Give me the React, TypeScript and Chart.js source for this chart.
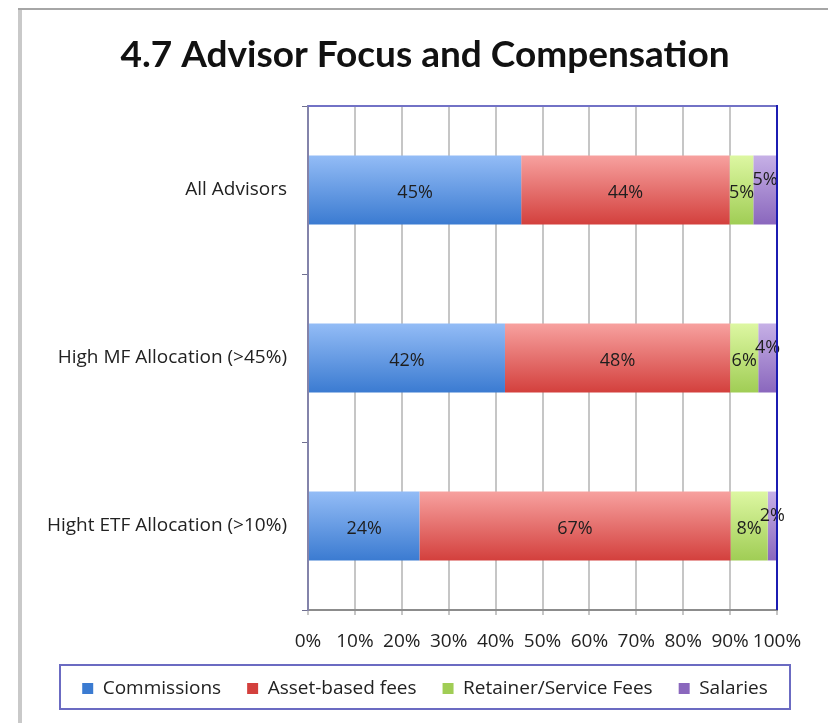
import React, { useEffect, useRef } from "react";
import { Chart, registerables } from "chart.js";

Chart.register(...registerables);

const titleText = "4.7 Advisor Focus and Compensation";
const categories = ["All Advisors", "High MF Allocation (>45%)", "Hight ETF Allocation (>10%)"];
const seriesNames = ["Commissions", "Asset-based fees", "Retainer/Service Fees", "Salaries"];
const commissions = [45, 42, 24];
const assetBasedFees = [44, 48, 67];
const retainerFees = [5, 6, 8];
const salaries = [5, 4, 2];
const xTickValues = [0, 10, 20, 30, 40, 50, 60, 70, 80, 90, 100];

const BAR_PCT = 0.41;
const SMALL_FONT = "'Open Sans', sans-serif";

const palette = [
  { top: "#93bcf6", bottom: "#3b7bd1", solid: "#5b93e0" },
  { top: "#f7a19f", bottom: "#d3403d", solid: "#e36461" },
  { top: "#ddf7a2", bottom: "#a0cd55", solid: "#bfe27a" },
  { top: "#c6b0e6", bottom: "#8a67bd", solid: "#a888d2" },
];

function makeFill(p: { top: string; bottom: string; solid: string }) {
  return (ctx: any) => {
    if (ctx.type !== "data") return p.solid;
    const chart = ctx.chart;
    const yScale = chart.scales && chart.scales.y;
    if (!yScale || !chart.chartArea) return p.solid;
    const c = yScale.getPixelForValue(ctx.dataIndex);
    const band = Math.abs(yScale.getPixelForValue(1) - yScale.getPixelForValue(0)) || 168;
    const half = (band * BAR_PCT) / 2;
    if (!isFinite(c) || !isFinite(half)) return p.solid;
    const g = chart.ctx.createLinearGradient(0, c - half, 0, c + half);
    g.addColorStop(0, p.top);
    g.addColorStop(1, p.bottom);
    return g;
  };
}

const framePlugin = {
  id: "frame",
  beforeDraw(chart: any) {
    const c = chart.ctx;
    c.save();
    c.fillStyle = "#ffffff";
    c.fillRect(0, 0, chart.width, chart.height);
    c.strokeStyle = "#c9c9c9";
    c.lineWidth = 4;
    c.beginPath();
    c.moveTo(20, 8);
    c.lineTo(20, chart.height);
    c.stroke();
    c.strokeStyle = "#a6a6a6";
    c.lineWidth = 2;
    c.beginPath();
    c.moveTo(18, 9);
    c.lineTo(chart.width, 9);
    c.stroke();
    c.restore();
  },
  afterDraw(chart: any) {
    const c = chart.ctx;
    const a = chart.chartArea;
    c.save();
    c.lineWidth = 2;
    c.strokeStyle = "#7272c6";
    c.beginPath();
    c.moveTo(a.left, a.top);
    c.lineTo(a.right, a.top);
    c.stroke();
    c.strokeStyle = "#1c1cb2";
    c.beginPath();
    c.moveTo(a.right, a.top - 1);
    c.lineTo(a.right, a.bottom);
    c.stroke();
    if (chart.legend) {
      c.strokeStyle = "#6b6bc2";
      c.lineWidth = 2;
      c.strokeRect(60, 665, 730, 44);
    }
    c.restore();
  },
};

const labelPlugin = {
  id: "segmentLabels",
  afterDatasetsDraw(chart: any) {
    const c = chart.ctx;
    c.save();
    c.font = `18px ${SMALL_FONT}`;
    c.fillStyle = "#1e1e1e";
    c.textAlign = "center";
    c.textBaseline = "middle";
    const values = [commissions, assetBasedFees, retainerFees, salaries];
    chart.data.datasets.forEach((_ds: any, di: number) => {
      const meta = chart.getDatasetMeta(di);
      meta.data.forEach((bar: any, i: number) => {
        const p = bar.getProps(["x", "base", "y"], true);
        const cx = (p.x + p.base) / 2;
        const dy = di === 3 ? -10 : 3;
        c.fillText(values[di][i] + "%", cx, p.y + dy);
      });
    });
    c.restore();
  },
};

export default function App() {
  const ref = useRef<HTMLCanvasElement | null>(null);
  useEffect(() => {
    document.body.style.margin = "0";
    if (!ref.current) return;
    const raw = [commissions, assetBasedFees, retainerFees, salaries];
    const totals = categories.map((_, i) => raw.reduce((s, arr) => s + arr[i], 0));
    const datasets = raw.map((arr, di) => ({
      label: seriesNames[di],
      data: arr.map((v, i) => (v / totals[i]) * 100),
      backgroundColor: makeFill(palette[di]),
      borderWidth: 0,
      categoryPercentage: 1,
      barPercentage: BAR_PCT,
    }));
    const chart = new Chart(ref.current, {
      type: "bar",
      data: { labels: categories, datasets },
      options: {
        indexAxis: "y",
        responsive: false,
        animation: false,
        layout: { padding: { left: 22, right: 0, top: 0, bottom: 15 } },
        plugins: {
          title: {
            display: true,
            text: titleText,
            color: "#111111",
            font: { family: "Lato, sans-serif", size: 37, weight: "bold" },
            padding: { top: 33, bottom: 28.6 },
          },
          legend: {
            display: true,
            position: "bottom",
            labels: {
              color: "#222222",
              font: { family: SMALL_FONT, size: 19 },
              boxWidth: 11,
              boxHeight: 11,
              padding: 26,
            },
          },
          tooltip: { enabled: false },
        },
        scales: {
          x: {
            type: "linear",
            stacked: true,
            min: 0,
            max: 100,
            afterBuildTicks(scale: any) {
              scale.ticks = xTickValues.map((v) => ({ value: v }));
            },
            afterFit(scale: any) {
              scale.paddingLeft = 0;
              scale.paddingRight = 0;
              scale.height = 43;
            },
            ticks: {
              autoSkip: false,
              maxRotation: 0,
              padding: 15.6,
              color: "#222222",
              font: { family: SMALL_FONT, size: 19 },
              callback: (v: any) => v + "%",
            },
            grid: { color: "#c6c6c6", lineWidth: 2, tickLength: 5, drawTicks: true },
            border: { display: true, color: "#8c8c8c", width: 2 },
          },
          y: {
            type: "category",
            stacked: true,
            afterFit(scale: any) {
              scale.width = 286;
              scale.paddingTop = 0;
              scale.paddingBottom = 0;
            },
            ticks: {
              padding: 15,
              color: "#222222",
              font: { family: SMALL_FONT, size: 19 },
            },
            grid: { display: true, drawOnChartArea: false, offset: true, tickLength: 6, color: "#6f6f8f", lineWidth: 1 },
            border: { display: true, color: "#8383aa", width: 2 },
          },
          yRightGap: {
            type: "category",
            position: "right",
            display: true,
            afterFit(scale: any) {
              scale.width = 51;
              scale.paddingTop = 0;
              scale.paddingBottom = 0;
            },
            ticks: { display: false },
            grid: { display: false },
            border: { display: false },
          },
        },
      },
      plugins: [framePlugin, labelPlugin],
    } as any);
    return () => chart.destroy();
  }, []);
  return (
    <div style={{ position: "absolute", left: 0, top: 0, width: 828, height: 723 }}>
      <canvas ref={ref} width={828} height={723} />
    </div>
  );
}
